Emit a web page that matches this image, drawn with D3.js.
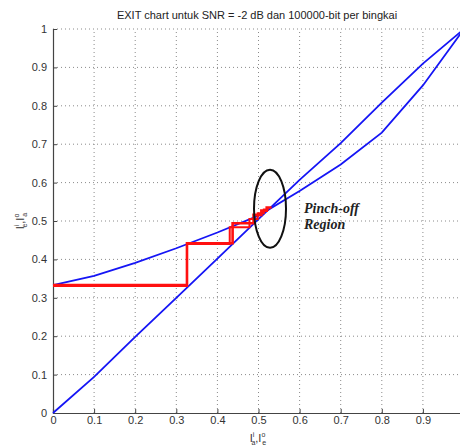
<!DOCTYPE html>
<html>
<head>
<meta charset="utf-8">
<script src="https://cdn.jsdelivr.net/npm/d3@7"></script>
<style>
  html, body { margin: 0; padding: 0; background: #fff; }
  svg { display: block; font-family: "Liberation Sans", Arial, sans-serif; }
</style>
</head>
<body>
<svg id="chart" width="460" height="448"></svg>
<script>
// EXIT curves (mutual information transfer)
const xTicks = [0, 0.1, 0.2, 0.3, 0.4, 0.5, 0.6, 0.7, 0.8, 0.9];
const yTicks = [0, 0.1, 0.2, 0.3, 0.4, 0.5, 0.6, 0.7, 0.8, 0.9, 1];

// inner decoder curve, from the origin
const innerX = [0, 0.1, 0.2, 0.3, 0.4, 0.5, 0.6, 0.7, 0.8, 0.9, 1];
const innerY = [0, 0.094, 0.198, 0.3, 0.402, 0.505, 0.607, 0.703, 0.808, 0.91, 1];

// outer decoder curve, starting above 0.33
const outerX = [0, 0.1, 0.2, 0.3, 0.4, 0.5, 0.6, 0.7, 0.8, 0.9, 1];
const outerY = [0.333, 0.357, 0.391, 0.429, 0.47, 0.514, 0.578, 0.647, 0.73, 0.853, 1];

// decoding trajectories (staircase)
const traj1X = [0, 0.326, 0.326, 0.437, 0.437, 0.488, 0.488, 0.507, 0.507, 0.52, 0.52, 0.532];
const traj1Y = [0.333, 0.333, 0.442, 0.442, 0.494, 0.494, 0.516, 0.516, 0.527, 0.527, 0.535, 0.535];
const traj2X = [0, 0.326, 0.326, 0.43, 0.43, 0.478, 0.478, 0.498, 0.498, 0.513, 0.513, 0.525];
const traj2Y = [0.331, 0.331, 0.44, 0.44, 0.484, 0.484, 0.505, 0.505, 0.52, 0.52, 0.53, 0.53];

const titleText = "EXIT chart untuk SNR = -2 dB dan 100000-bit per bingkai";

const svg = d3.select("#chart");
const x = d3.scaleLinear().domain([0, 1]).range([53, 464]);
const y = d3.scaleLinear().domain([0, 1]).range([413, 29]);

// dotted grid
const grid = svg.append("g");
grid.selectAll("line.gx").data(xTicks.slice(1)).join("line")
  .attr("x1", d => x(d)).attr("x2", d => x(d))
  .attr("y1", y(0)).attr("y2", y(1))
  .attr("stroke", "#8a8a8a").attr("stroke-width", 1).attr("stroke-dasharray", "1,3");
grid.selectAll("line.gy").data(yTicks.slice(1)).join("line")
  .attr("x1", x(0)).attr("x2", x(1))
  .attr("y1", d => y(d)).attr("y2", d => y(d))
  .attr("stroke", "#8a8a8a").attr("stroke-width", 1).attr("stroke-dasharray", "1,3");

// axes with inward ticks
const xAxis = d3.axisBottom(x).tickValues(xTicks).tickSize(-4).tickPadding(3)
  .tickFormat(d => d3.format("")(d));
const yAxis = d3.axisLeft(y).tickValues(yTicks).tickSize(-4).tickPadding(6)
  .tickFormat(d => d3.format("")(d));

const gx = svg.append("g").attr("transform", `translate(0,${y(0)})`).call(xAxis);
const gy = svg.append("g").attr("transform", `translate(${x(0)},0)`).call(yAxis);
[gx, gy].forEach(g => {
  g.select(".domain").attr("stroke", "#444").attr("stroke-width", 1.2);
  g.selectAll(".tick line").attr("stroke", "#444");
  g.selectAll(".tick text").attr("fill", "#333").attr("font-size", 11)
    .attr("font-family", "Liberation Sans, Arial, sans-serif");
});

const line = d3.line().x(d => x(d[0])).y(d => y(d[1]));
const pts = (xs, ys) => xs.map((v, i) => [v, ys[i]]);

// EXIT curves
svg.append("path").datum(pts(innerX, innerY)).attr("d", line)
  .attr("fill", "none").attr("stroke", "#1515f5").attr("stroke-width", 1.8);
svg.append("path").datum(pts(outerX, outerY)).attr("d", line)
  .attr("fill", "none").attr("stroke", "#1515f5").attr("stroke-width", 1.8);

// trajectories
svg.append("path").datum(pts(traj2X, traj2Y)).attr("d", line)
  .attr("fill", "none").attr("stroke", "#ff1010").attr("stroke-width", 2);
svg.append("path").datum(pts(traj1X, traj1Y)).attr("d", line)
  .attr("fill", "none").attr("stroke", "#ff1010").attr("stroke-width", 2.6);

// pinch-off annotation
svg.append("ellipse").attr("cx", x(0.528)).attr("cy", y(0.532))
  .attr("rx", 16).attr("ry", 39)
  .attr("fill", "none").attr("stroke", "#111").attr("stroke-width", 2);
svg.append("text").attr("x", 304).attr("y", 213)
  .attr("font-family", "Liberation Serif, Times New Roman, serif")
  .attr("font-style", "italic").attr("font-weight", "bold")
  .attr("font-size", 14).attr("fill", "#222").text("Pinch-off");
svg.append("text").attr("x", 304).attr("y", 229)
  .attr("font-family", "Liberation Serif, Times New Roman, serif")
  .attr("font-style", "italic").attr("font-weight", "bold")
  .attr("font-size", 14).attr("fill", "#222").text("Region");

// title
svg.append("text").attr("x", 257).attr("y", 19).attr("text-anchor", "middle")
  .attr("font-size", 11).attr("fill", "#222").text(titleText);

// axis labels: I_a^i, I_e^o and I_e^i, I_a^o
function miLabel(g, parts) {
  const t = g.append("text").attr("text-anchor", "middle").attr("font-size", 11).attr("fill", "#333");
  parts.forEach((p, i) => {
    t.append("tspan").text("I");
    t.append("tspan").attr("font-size", 7).attr("dy", -5).text(p[0]);
    t.append("tspan").attr("font-size", 7).attr("dx", -3).attr("dy", 8).text(p[1]);
    t.append("tspan").attr("dy", -3).text(i === 0 ? "," : "");
  });
  return t;
}
const xl = svg.append("g").attr("transform", "translate(258,442)");
miLabel(xl, [["i", "a"], ["o", "e"]]);
const yl = svg.append("g").attr("transform", "translate(24,221) rotate(-90)");
miLabel(yl, [["i", "e"], ["o", "a"]]);
</script>
</body>
</html>
